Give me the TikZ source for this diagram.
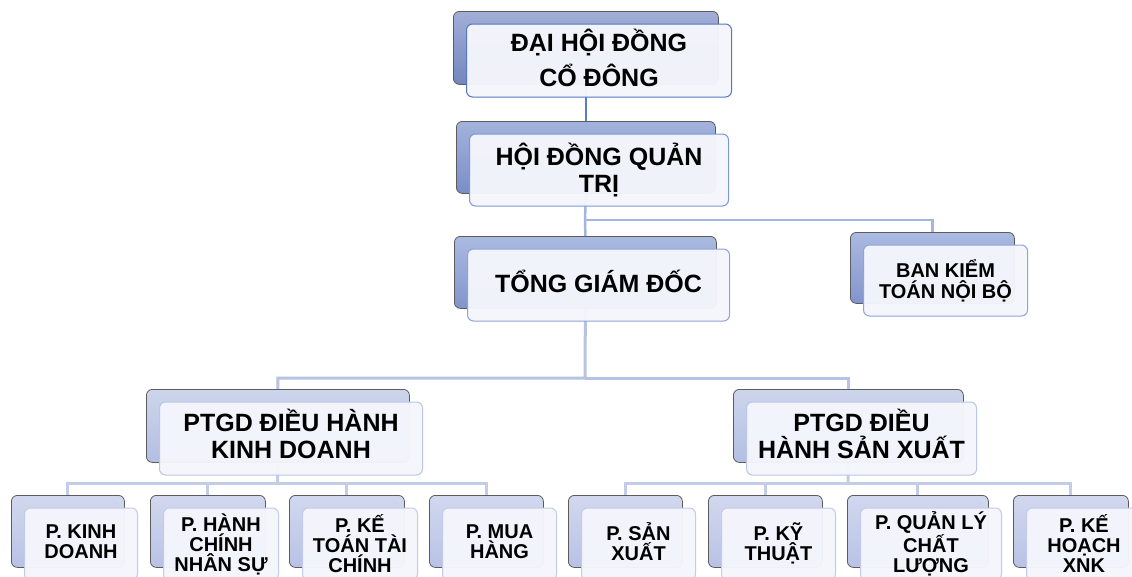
\documentclass[tikz,border=0pt]{standalone}
\usepackage{fontspec}
\setmainfont{Liberation Sans}
\usetikzlibrary{calc,backgrounds}
% back box colours per level
\definecolor{bkTopA}{HTML}{A2AED6}\definecolor{bkBotA}{HTML}{7486BF}\definecolor{frA}{HTML}{5577C4}
\definecolor{bkTopB}{HTML}{A3B3DD}\definecolor{bkBotB}{HTML}{7A8DC8}\definecolor{frB}{HTML}{7C98D4}
\definecolor{bkTopC}{HTML}{ABBAE1}\definecolor{bkBotC}{HTML}{8294CD}\definecolor{frC}{HTML}{8EA4D8}
\definecolor{bkTopD}{HTML}{CDD5EC}\definecolor{bkBotD}{HTML}{B3BEE2}\definecolor{frD}{HTML}{BAC6E6}
\definecolor{bkTopE}{HTML}{D1D8EE}\definecolor{bkBotE}{HTML}{B8C2E5}\definecolor{frE}{HTML}{C2CCEA}
\definecolor{frontfill}{HTML}{F5F6FC}
\definecolor{backedge}{HTML}{5C5C5C}
\definecolor{lnA}{HTML}{5B7BD0}
\definecolor{lnB}{HTML}{A6B5DF}
\definecolor{lnC}{HTML}{B8C3E3}
\definecolor{lnD}{HTML}{C3CCE8}
\tikzset{
  backbox/.style={draw=backedge, line width=0.8pt, rounded corners=6pt, inner sep=0pt, anchor=north west},
  frontbox/.style={fill=frontfill, fill opacity=0.96, text opacity=1, line width=1pt, rounded corners=6pt, inner sep=0pt, anchor=north west, align=center},
  backA/.style={top color=bkTopA, bottom color=bkBotA}, frontA/.style={draw=frA},
  backB/.style={top color=bkTopB, bottom color=bkBotB}, frontB/.style={draw=frB},
  backC/.style={top color=bkTopC, bottom color=bkBotC}, frontC/.style={draw=frC},
  backD/.style={top color=bkTopD, bottom color=bkBotD}, frontD/.style={draw=frD},
  backE/.style={top color=bkTopE, bottom color=bkBotE}, frontE/.style={draw=frE},
  bigtxt/.style={font=\fontsize{25}{27}\selectfont\bfseries},
  toptxt/.style={font=\fontsize{25}{35}\selectfont\bfseries, text depth=6pt},
  midtxt/.style={font=\fontsize{20}{21}\selectfont\bfseries},
  smalltxt/.style={font=\fontsize{20}{20}\selectfont\bfseries},
  connA/.style={draw=lnA, line width=2pt},
  connB/.style={draw=lnB, line width=2.5pt},
  connC/.style={draw=lnC, line width=3pt},
  connD/.style={draw=lnD, line width=3pt},
}
% #1 name, #2 x, #3 y, #4 width, #5 height, #6 level letter, #7 text style, #8 text
\newcommand\orgunit[8]{%
  \node[backbox, back#6, minimum width=#4pt, minimum height=#5pt] (#1) at (#2,#3) {};
  \node[frontbox, front#6, #7, minimum width=#4pt, minimum height=#5pt] (#1f) at ($(#2,#3)+(13,12.5)$) {#8};
}
\begin{document}
\begin{tikzpicture}[x=1pt,y=-1pt]
\useasboundingbox (0,0) rectangle (1132,576);
\orgunit{dh}{453}{11}{265}{73}{A}{toptxt}{ĐẠI HỘI ĐỒNG\\CỔ ĐÔNG}
\orgunit{hd}{456}{121}{259}{72}{B}{bigtxt}{HỘI ĐỒNG QUẢN\\TRỊ}
\orgunit{tgd}{454}{236}{262}{72}{C}{bigtxt, text depth=8pt}{TỔNG GIÁM ĐỐC}
\orgunit{bks}{850}{232}{164}{71}{C}{midtxt}{BAN KIỂM\\TOÁN NỘI BỘ}
\orgunit{pkd}{146}{389}{263}{73}{D}{bigtxt, text depth=9pt}{PTGD ĐIỀU HÀNH\\KINH DOANH}
\orgunit{psx}{733}{389}{230}{73}{D}{bigtxt, text depth=9pt}{PTGD ĐIỀU\\HÀNH SẢN XUẤT}
\orgunit{ka}{11}{495}{113}{72}{E}{smalltxt, text depth=4pt}{P. KINH\\DOANH}
\orgunit{kb}{150}{495}{115}{72}{E}{smalltxt}{P. HÀNH\\CHÍNH\\NHÂN SỰ}
\orgunit{kc}{289}{495}{115}{72}{E}{smalltxt}{P. KẾ\\TOÁN TÀI\\CHÍNH}
\orgunit{kd}{429}{495}{114}{72}{E}{smalltxt, text depth=4pt}{P. MUA\\HÀNG}
\orgunit{sa}{568}{495}{114}{72}{E}{smalltxt, text depth=4pt}{P. SẢN\\XUẤT}
\orgunit{sb}{708}{495}{114}{72}{E}{smalltxt, text depth=4pt}{P. KỸ\\THUẬT}
\orgunit{sc}{847}{495}{141}{72}{E}{smalltxt}{P. QUẢN LÝ\\CHẤT\\LƯỢNG}
\orgunit{sd}{1013}{495}{115}{72}{E}{smalltxt}{P. KẾ\\HOẠCH\\XNK}
\begin{pgfonlayer}{background}
  \fill[white] (0,0) rectangle (1132,576);
  \coordinate (busA) at (585,220);
  \coordinate (busB) at (585,378);
  \coordinate (busC) at (277.5,483);
  \coordinate (busD) at (848,483);
  \draw[connA] (dh.south) -- (hd.north);
  \draw[connB] (hd.south) -- (busA) -- (tgd.north);
  \draw[connB] (busA) -| (bks.north);
  \draw[connC] (tgd.south) -- (busB) -| (pkd.north);
  \draw[connC] (busB) -| (psx.north);
  \draw[connD] (pkd.south) -- (busC);
  \draw[connD] (busC) -| (ka.north);
  \draw[connD] (busC) -| (kb.north);
  \draw[connD] (busC) -| (kc.north);
  \draw[connD] (busC) -| (kd.north);
  \draw[connD] (psx.south) -- (busD);
  \draw[connD] (busD) -| (sa.north);
  \draw[connD] (busD) -| (sb.north);
  \draw[connD] (busD) -| (sc.north);
  \draw[connD] (busD) -| (sd.north);
\end{pgfonlayer}
\end{tikzpicture}
\end{document}
